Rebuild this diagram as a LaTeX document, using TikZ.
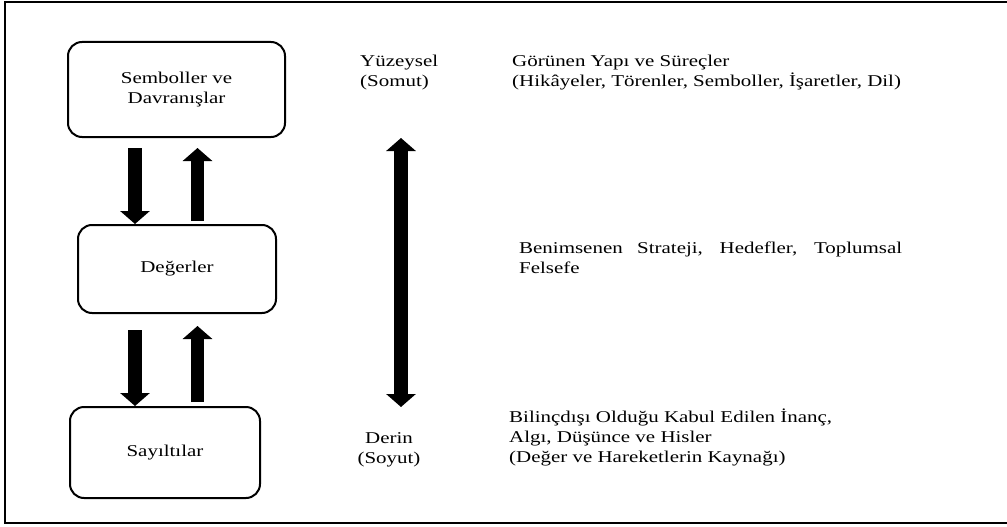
\documentclass[tikz,border=0pt]{standalone}
\usepackage{fontspec}
\setmainfont{Liberation Serif}[FakeStretch=1.27]
\usetikzlibrary{arrows.meta,calc}
\tikzset{
	katman/.style={draw, line width=2pt, rounded corners=14pt, align=center, inner sep=0pt},
	blokok/.style={line width=13.5pt, -{Triangle[length=13pt, width=29pt]}},
	yazi/.style={inner sep=0pt, align=left, anchor=north west}
}

\begin{document}
\begin{tikzpicture}[x=1pt, y=-1pt, font=\fontsize{16.5}{20}\selectfont]
			%%%%% START %%%%%
			\useasboundingbox (0, 0) rectangle (1007, 527);
			
			\draw[line width=2pt] (1008, 2) -- (5, 2) -- (5, 523) -- (1008, 523);
			
			\node[katman, minimum width=217pt, minimum height=95pt] (sembol) at (176.5, 89.5) {Semboller ve\\Davranışlar};
			\node[katman, minimum width=198pt, minimum height=88pt] (deger) at (177, 269) {Değerler};
			\node[katman, minimum width=190pt, minimum height=91pt] (sayilti) at (165, 452.5) {Sayıltılar};
			
			\draw[blokok] (135, 148) -- (135, 0 |- deger.north);
			\draw[blokok] (197.5, 0 |- deger.north) ++(0, -3) -- (197.5, 148);
			\draw[blokok] (135, 330) -- (135, 0 |- sayilti.north);
			\draw[blokok] (197.5, 0 |- sayilti.north) ++(0, -4) -- (197.5, 326);
			
			\draw[blokok, {Triangle[length=13pt, width=29pt]}-{Triangle[length=13pt, width=29pt]}] (401, 138) -- (401, 407);
			
			\node[yazi] (yuzey) at (360, 55) {Yüzeysel\\(Somut)};
			\node[inner sep=0pt, align=center, anchor=north] (derin) at (389, 432) {Derin\\(Soyut)};
			
			\node[yazi] (gorunen) at (512, 55) {Görünen Yapı ve Süreçler\\(Hikâyeler, Törenler, Semboller, İşaretler, Dil)};
			\node[yazi] (benim) at (519, 242) {\makebox[383pt][s]{Benimsenen Strateji, Hedefler, Toplumsal}\\Felsefe};
			\node[yazi] (bilinc) at (509, 409) {Bilinçdışı Olduğu Kabul Edilen İnanç,\\Algı, Düşünce ve Hisler\\(Değer ve Hareketlerin Kaynağı)};
			
			%%%%% END %%%%%
		\end{tikzpicture}
\end{document}
